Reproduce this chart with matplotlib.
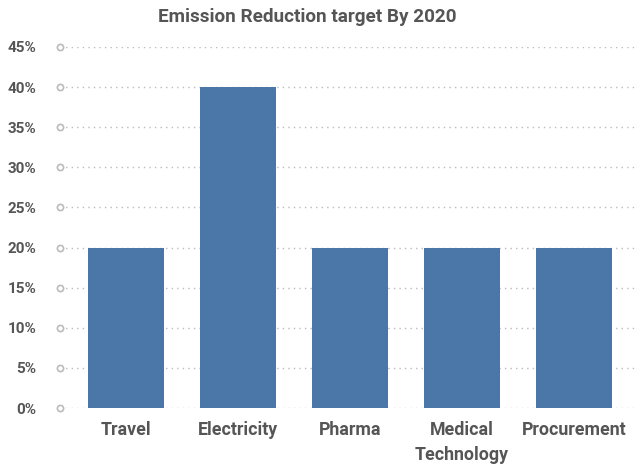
import matplotlib
matplotlib.use("Agg")
import matplotlib.pyplot as plt

categories = ["Travel", "Electricity", "Pharma", "Medical\nTechnology", "Procurement"]
values = [20, 40, 20, 20, 20]
yticks = [0, 5, 10, 15, 20, 25, 30, 35, 40, 45]

plt.rcParams['font.family'] = ['Roboto', 'DejaVu Sans']
W, H = 635, 465
fig = plt.figure(figsize=(W/100, H/100), dpi=100)
ax = fig.add_axes([60/W, 1-408/H, (635-60)/W, (408-47)/H])

x = list(range(len(categories)))
ax.bar(x, values, width=0.67, color="#4a76a8", zorder=3)
ax.set_ylim(0, 45)
ax.set_xlim(-0.5 - 10/112, (635-126)/112)

for t in yticks:
    ax.axhline(t, color="#bbbbbb", linestyle=(0, (1, 3)), linewidth=1, zorder=1)
ax.scatter([ax.get_xlim()[0]]*len(yticks), yticks, s=20, facecolor="white",
           edgecolor="#bbbbbb", linewidth=1.2, zorder=4, clip_on=False)

ax.set_yticks(yticks)
ax.set_yticklabels([f"{t}%" for t in yticks], fontsize=11, fontweight="bold", color="#555555")
ax.set_xticks(x)
ax.set_xticklabels(categories, fontsize=12.8, fontweight="bold", color="#555555", linespacing=1.5)
ax.tick_params(axis="y", length=0, pad=17)
ax.tick_params(axis="x", length=0, pad=9)
for s in ax.spines.values():
    s.set_visible(False)

fig.text(307/W, 1-17/H, "Emission Reduction target By 2020", ha="center", va="center",
         fontsize=13.6, fontweight="bold", color="#555555")

fig.savefig("out.png", dpi=100)
